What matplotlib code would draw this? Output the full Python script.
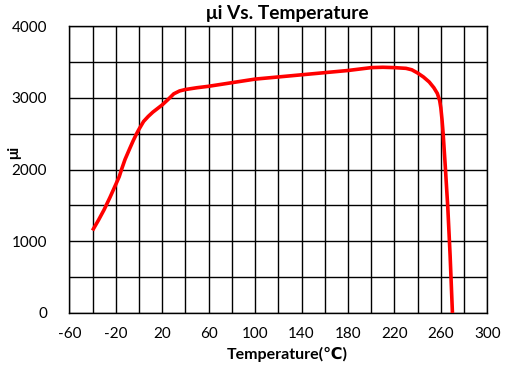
import matplotlib
matplotlib.use("Agg")
import matplotlib.pyplot as plt
import numpy as np

plt.rcParams['font.family'] = ['Lato', 'DejaVu Sans']
plt.rcParams['axes.unicode_minus'] = False

# Data
temperature = [-40, -35, -30, -25, -20, -17, -15, -12, -8, -5, -2, 0, 4, 8, 12,
               16, 20, 25, 30, 35, 40, 50, 60, 100, 140, 180, 190, 200, 210, 220,
               230, 235, 240, 245, 250, 254, 257, 259, 260, 261, 262, 264, 266,
               268, 270]
mu_i = [1150, 1290, 1440, 1610, 1790, 1900, 2000, 2140, 2290, 2400, 2500, 2560,
        2670, 2740, 2800, 2850, 2900, 2975, 3055, 3095, 3115, 3140, 3160, 3260,
        3320, 3380, 3400, 3420, 3425, 3420, 3410, 3390, 3345, 3290, 3220, 3140,
        3060, 2960, 2860, 2700, 2500, 2000, 1470, 800, 0]

x_ticks = np.arange(-60, 301, 40)
y_ticks = np.arange(0, 4001, 1000)

fig = plt.figure(figsize=(5.14, 3.68), dpi=100)
ax = fig.add_axes([0.1348, 0.1495, 0.8132, 0.7798])

ax.plot(temperature, mu_i, color="#ff0000", linewidth=2.6, solid_capstyle="butt",
        solid_joinstyle="round", zorder=3)

ax.set_xlim(-60, 300)
ax.set_ylim(0, 4000)
ax.set_xticks(x_ticks)
ax.set_yticks(y_ticks)
ax.set_xticks(np.arange(-60, 301, 20), minor=True)
ax.set_yticks(np.arange(0, 4001, 500), minor=True)
ax.grid(which="both", color="black", linewidth=1.0, zorder=1)
ax.tick_params(which="both", length=0, labelsize=11)
ax.tick_params(axis="y", pad=16)
ax.tick_params(axis="x", pad=10)
for sp in ax.spines.values():
    sp.set_color("black")
    sp.set_linewidth(1.0)

fig.text(287 / 514, 1 - 13 / 368, "μi Vs. Temperature", ha="center", va="center",
         fontsize=13.8, fontweight="bold")
fig.text(287 / 514, 1 - 354 / 368, "Temperature(℃)", ha="center", va="center",
         fontsize=11.5, fontweight="bold")
fig.text(14 / 514, 1 - 152 / 368, "μi", ha="center", va="center", rotation=90,
         fontsize=11, fontweight="bold")

fig.savefig("out.png", dpi=100)
